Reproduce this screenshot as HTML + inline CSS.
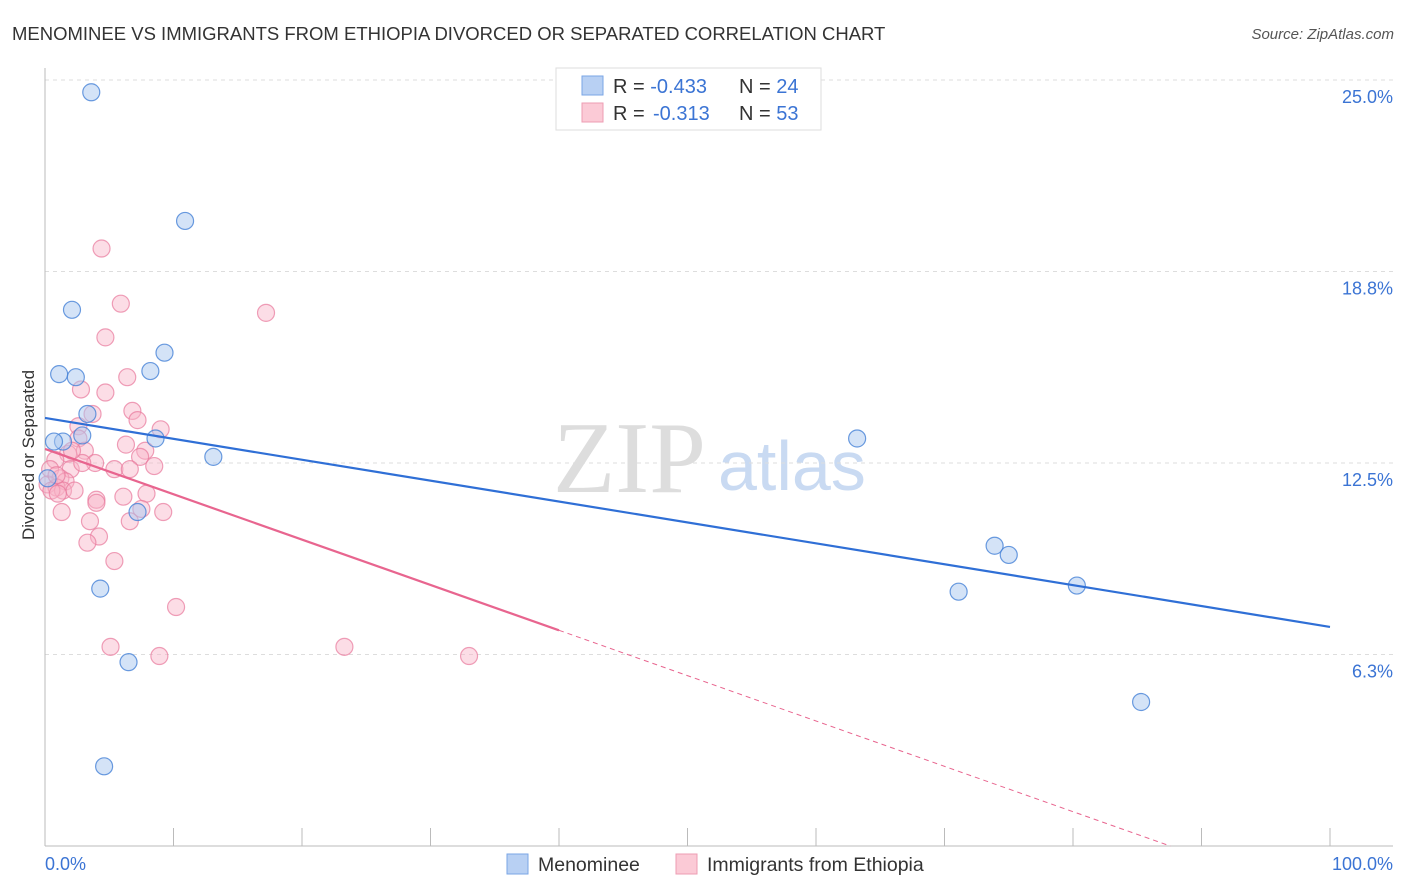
<!DOCTYPE html>
<html><head><meta charset="utf-8"><style>
body{margin:0;background:#fff;font-family:"Liberation Sans",sans-serif;}
#wrap{position:relative;width:1406px;height:892px;overflow:hidden;}
</style></head><body><div id="wrap">
<svg id="svg" width="1406" height="892" xmlns="http://www.w3.org/2000/svg">
<text x="12" y="40" font-size="18.5" fill="#333">MENOMINEE VS IMMIGRANTS FROM ETHIOPIA DIVORCED OR SEPARATED CORRELATION CHART</text>
<text x="1394" y="39" font-size="15" fill="#555" font-style="italic" text-anchor="end">Source: ZipAtlas.com</text>
<text x="553" y="492" font-size="102" fill="#ddd" font-family="Liberation Serif,serif">ZIP</text>
<text x="718" y="490" font-size="70" fill="#c9daf2">atlas</text>
<text transform="translate(34,455) rotate(-90)" font-size="17" fill="#333" text-anchor="middle">Divorced or Separated</text>
<g id="grid"></g><g id="axes"></g><g id="pts"></g><g id="lines"></g>
<g>
<rect x="556" y="68" width="265" height="62" fill="#fff" stroke="#ddd"/>
<rect x="582" y="76" width="21" height="19" fill="#b8d0f3" stroke="#7aa6e6"/>
<rect x="582" y="103" width="21" height="19" fill="#fbcad6" stroke="#ee9cb3"/>
<text x="613" y="93" font-size="20" fill="#333">R = <tspan fill="#3b74d4">-0.433</tspan><tspan x="739">N = </tspan><tspan fill="#3b74d4">24</tspan></text>
<text x="613" y="120" font-size="20" fill="#333">R = <tspan x="653" fill="#3b74d4">-0.313</tspan><tspan x="739">N = </tspan><tspan fill="#3b74d4">53</tspan></text>
</g>
<g>
<rect x="507" y="854" width="21" height="20" fill="#b8d0f3" stroke="#7aa6e6"/>
<text x="538" y="871" font-size="19.5" fill="#333">Menominee</text>
<text x="707" y="871" font-size="19.5" fill="#333">Immigrants from Ethiopia</text>
<rect x="676" y="854" width="21" height="20" fill="#fbcad6" stroke="#ee9cb3"/>
</g>
</svg>
<script>
const yTicks=[6.25,12.5,18.75,25];
const yTickLabels=["6.3%","12.5%","18.8%","25.0%"];
const xTicks=[0,10,20,30,40,50,60,70,80,90,100];
const xEndLabels=["0.0%","100.0%"];
const menX=[3.6,10.9,2.1,9.3,1.1,8.2,2.4,3.3,2.9,1.4,0.7,8.6,13.1,0.2,7.2,63.2,73.9,75.0,71.1,80.3,4.3,6.5,85.3,4.6];
const menY=[24.6,20.4,17.5,16.1,15.4,15.5,15.3,14.1,13.4,13.2,13.2,13.3,12.7,12.0,10.9,13.3,9.8,9.5,8.3,8.5,8.4,6.0,4.7,2.6];
const ethX=[4.4,5.9,17.2,4.7,6.4,2.8,4.7,3.7,6.8,7.2,9.0,2.6,2.6,6.3,3.1,7.8,1.8,3.9,7.4,0.8,5.4,6.6,8.5,2.0,0.4,2.9,1.2,1.6,0.2,0.9,1.4,2.3,0.5,1.0,4.0,6.1,7.9,4.0,1.3,9.2,6.6,7.5,3.5,4.2,3.3,5.4,10.2,5.1,8.9,23.3,33.0,0.9,2.1];
const ethY=[19.5,17.7,17.4,16.6,15.3,14.9,14.8,14.1,14.2,13.9,13.6,13.7,13.3,13.1,12.9,12.9,12.8,12.5,12.7,12.6,12.3,12.3,12.4,12.3,12.3,12.5,12.0,11.9,11.8,11.7,11.6,11.6,11.6,11.5,11.3,11.4,11.5,11.2,10.9,10.9,10.6,11.0,10.6,10.1,9.9,9.3,7.8,6.5,6.2,6.5,6.2,12.1,12.9];
const menTrend=[13.97,-0.0682];
const ethTrend=[12.96,-0.148];
const ethSolidEnd=40;
const X=v=>45+v*12.85, Y=v=>846-v*30.64;
const NS="http://www.w3.org/2000/svg";
function mk(t,a,p){const e=document.createElementNS(NS,t);for(const k in a)e.setAttribute(k,a[k]);p.appendChild(e);return e;}
const g=document.getElementById('grid'),ax=document.getElementById('axes'),pts=document.getElementById('pts'),ln=document.getElementById('lines');
yTicks.forEach((v,i)=>{
 const l=mk('line',{x1:45,x2:1393,y1:Y(v),y2:Y(v),stroke:'#ddd','stroke-dasharray':'4,4'},g);
 
 
 const t=mk('text',{x:1393,y:Y(v)+23,'font-size':18,fill:'#3b74d4','text-anchor':'end'},ax);
 t.textContent=yTickLabels[i];
 
 
});
const ya=mk('line',{x1:45,x2:45,y1:68,y2:846,stroke:'#bbb'},ax);


const xa=mk('line',{x1:45,x2:1393,y1:846,y2:846,stroke:'#bbb'},ax);


xTicks.forEach(v=>{
 const t=mk('line',{x1:X(v),x2:X(v),y1:828,y2:846,stroke:'#bbb'},ax);
 
 
});
[[0,'start',45],[100,'end',1393]].forEach((a,i)=>{
 const t=mk('text',{x:a[2],y:870,'font-size':18,fill:'#3b74d4','text-anchor':a[1]},ax);
 t.textContent=xEndLabels[i];
 
 
});
ethX.forEach((x,i)=>{
 const c=mk('circle',{cx:X(x),cy:Y(ethY[i]),r:8.5,fill:'rgba(248,180,200,0.45)',stroke:'rgba(232,120,155,0.7)','stroke-width':1.2},pts);
 
 
});
menX.forEach((x,i)=>{
 const c=mk('circle',{cx:X(x),cy:Y(menY[i]),r:8.5,fill:'rgba(170,200,240,0.5)',stroke:'rgba(70,130,215,0.8)','stroke-width':1.2},pts);
 
 
});
const mt=mk('line',{x1:X(0),y1:Y(menTrend[0]),x2:X(100),y2:Y(menTrend[0]+100*menTrend[1]),stroke:'#2f6fd6','stroke-width':2.2},ln);


const ey=x=>ethTrend[0]+ethTrend[1]*x;
const et=mk('line',{x1:X(0),y1:Y(ey(0)),x2:X(ethSolidEnd),y2:Y(ey(ethSolidEnd)),stroke:'#e8658f','stroke-width':2.2},ln);


const xz=-ethTrend[0]/ethTrend[1];
const ed=mk('line',{x1:X(ethSolidEnd),y1:Y(ey(ethSolidEnd)),x2:X(xz),y2:Y(0),stroke:'#e8658f','stroke-width':1,'stroke-dasharray':'5,4'},ln);


</script></div></body></html>
